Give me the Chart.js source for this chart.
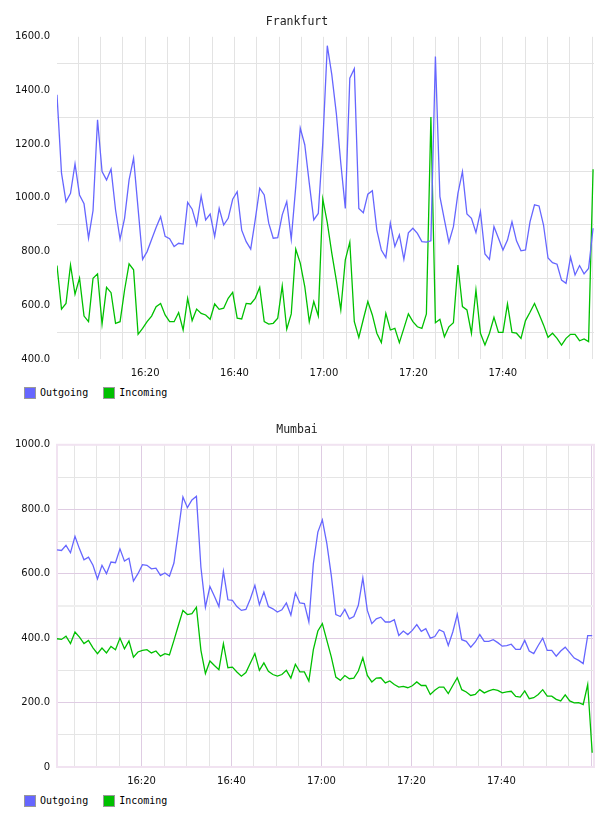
<!DOCTYPE html>
<html>
<head>
<meta charset="utf-8">
<script src="https://cdn.jsdelivr.net/npm/chart.js@4.4.0/dist/chart.umd.min.js"></script>
<style>
  body { margin: 0; background: #fff; }
  .panel { position: relative; width: 608px; height: 408px; }
  .panel canvas { position: absolute; left: 0; top: 0; }
  .legend {
    position: absolute; left: 24px; top: 387px; display: flex;
    font: 10px "DejaVu Sans Mono", monospace; color: #000; line-height: 12px;
  }
  .legend .item { display: flex; align-items: center; margin-right: 15px; }
  .legend .swatch { width: 10px; height: 10px; border: 1px solid #999; margin-right: 4px; }
</style>
</head>
<body>
<div class="panel">
  <canvas id="frankfurtChart" width="608" height="380"></canvas>
  <div class="legend" id="frankfurtLegend"></div>
</div>
<div class="panel">
  <canvas id="mumbaiChart" width="608" height="380"></canvas>
  <div class="legend" id="mumbaiLegend"></div>
</div>
<script>
// one sample per minute, starting just after 16:00
const seriesNames = ["Outgoing", "Incoming"];
const seriesColors = ["#6666ff", "#00c000"];

const timeTicks = [20, 40, 60, 80, 100];
const timeLabels = ["16:20", "16:40", "17:00", "17:20", "17:40"];

const frankfurtOutgoing = [
  1384, 1092, 986, 1017, 1127, 1011, 978, 850, 953, 1291,
  1098, 1067, 1107, 955, 846, 924, 1067, 1148, 960, 771,
  800, 845, 890, 930, 857, 848, 819, 831, 828, 983,
  958, 899, 1007, 918, 940, 856, 961, 899, 924, 995,
  1023, 880, 837, 809, 918, 1036, 1011, 906, 850, 852,
  937, 986, 846, 1042, 1260, 1198, 1055, 918, 942, 1204,
  1567, 1459, 1316, 1129, 961, 1446, 1481, 961, 945, 1014,
  1027, 880, 806, 778, 906, 819, 862, 771, 870, 887,
  868, 837, 835, 840, 1527, 1005, 918, 834, 893, 1017,
  1098, 940, 924, 871, 949, 791, 771, 893, 850, 806,
  843, 911, 840, 803, 806, 911, 974, 970, 899, 776,
  759, 753, 694, 682, 779, 713, 748, 717, 737, 887,
];
const frankfurtIncoming = [
  748, 586, 607, 750, 641, 701, 560, 539, 701, 717,
  530, 667, 647, 533, 539, 657, 754, 732, 492, 514,
  539, 560, 595, 607, 564, 539, 539, 573, 508, 626,
  543, 586, 570, 564, 548, 605, 585, 589, 626, 648,
  552, 549, 607, 605, 626, 667, 539, 530, 533, 552,
  672, 511, 568, 809, 757, 670, 539, 614, 560, 996,
  908, 794, 694, 583, 769, 835, 539, 480, 548, 614,
  564, 496, 461, 570, 508, 514, 461, 514, 568, 539,
  520, 514, 568, 1301, 535, 548, 483, 520, 535, 750,
  595, 583, 496, 657, 496, 452, 496, 555, 499, 499,
  605, 499, 496, 477, 543, 574, 607, 568, 527, 481,
  496, 477, 452, 477, 492, 492, 468, 475, 465, 1107,
];

const mumbaiOutgoing = [
  674, 672, 688, 665, 716, 677, 643, 651, 626, 584,
  626, 600, 636, 634, 677, 639, 648, 577, 600, 628,
  626, 615, 617, 595, 602, 592, 633, 734, 838, 805,
  829, 840, 620, 496, 560, 530, 498, 607, 519, 517,
  498, 486, 489, 522, 564, 504, 543, 498, 491, 481,
  488, 509, 471, 540, 509, 507, 450, 631, 729, 767,
  693, 593, 473, 467, 489, 460, 467, 502, 587, 486,
  445, 460, 465, 450, 450, 457, 408, 422, 411, 424,
  442, 421, 429, 400, 405, 426, 419, 377, 419, 474,
  395, 390, 372, 388, 411, 390, 390, 395, 386, 375,
  377, 381, 365, 365, 393, 360, 352, 377, 400, 362,
  362, 344, 360, 372, 355, 338, 331, 321, 408, 408,
];
const mumbaiIncoming = [
  398, 396, 406, 383, 419, 403, 383, 393, 370, 352,
  369, 354, 374, 364, 400, 367, 391, 341, 357, 362,
  364, 354, 360, 344, 352, 348, 393, 440, 486, 473,
  476, 496, 362, 290, 329, 315, 302, 383, 308, 310,
  295, 282, 293, 323, 352, 300, 323, 297, 287, 282,
  287, 300, 276, 319, 295, 295, 267, 364, 422, 445,
  393, 341, 279, 269, 284, 274, 276, 298, 339, 284,
  264, 276, 277, 261, 267, 256, 248, 250, 246, 252,
  264, 253, 253, 225, 238, 248, 248, 228, 253, 277,
  240, 233, 222, 225, 240, 230, 236, 241, 238, 230,
  233, 235, 219, 217, 236, 212, 215, 225, 240, 220,
  220, 210, 205, 224, 205, 199, 200, 194, 256, 44,
];

const tickFont = { family: "'DejaVu Sans', sans-serif", size: 10 };

function timeLabel(value) {
  const idx = timeTicks.indexOf(value);
  return idx >= 0 ? timeLabels[idx] : "";
}

function yLabel(value) {
  if (value % 200 !== 0) return "";
  return value === 0 ? "0" : value.toFixed(1);
}

function toPoints(values, start, step) {
  return values.map((v, i) => ({ x: start + i * step, y: v }));
}

function renderLegend(id) {
  const el = document.getElementById(id);
  el.innerHTML = seriesNames
    .map(
      (name, i) =>
        `<span class="item"><span class="swatch" style="background:${seriesColors[i]}"></span>${name}</span>`,
    )
    .join("");
}

const framePlugin = {
  id: "frame",
  beforeDatasetsDraw(chart, args, opts) {
    if (!opts.color) return;
    const { ctx, chartArea } = chart;
    ctx.save();
    ctx.strokeStyle = opts.color;
    ctx.lineWidth = 2;
    ctx.strokeRect(chartArea.left, chartArea.top, chartArea.right - chartArea.left, chartArea.bottom - chartArea.top);
    ctx.restore();
  },
};

function renderChart(canvasId, title, outgoing, incoming, cfg) {
  const ctx = document.getElementById(canvasId);
  const minuteMarks = [];
  for (let m = 5; m < cfg.xMax; m += 5) {
    if (m > cfg.xStart) minuteMarks.push(m);
  }

  return new Chart(ctx, {
    type: "line",
    data: {
      datasets: [
        {
          label: seriesNames[0],
          data: toPoints(outgoing, cfg.xStart, cfg.xStep),
          borderColor: seriesColors[0],
          borderWidth: 1.3,
          pointRadius: 0,
          tension: 0,
          fill: false,
        },
        {
          label: seriesNames[1],
          data: toPoints(incoming, cfg.xStart, cfg.xStep),
          borderColor: seriesColors[1],
          borderWidth: 1.3,
          pointRadius: 0,
          tension: 0,
          fill: false,
        },
      ],
    },
    options: {
      responsive: false,
      animation: false,
      layout: { padding: { left: 0, right: 14, top: 0, bottom: 0 } },
      plugins: {
        legend: { display: false },
        tooltip: { enabled: false },
        title: {
          display: true,
          text: title,
          color: "#222",
          font: { family: "'DejaVu Sans Mono', monospace", size: 11.5, weight: "normal" },
          padding: { top: 15, bottom: 8 },
        },
        frame: { color: cfg.frameColor },
      },
      scales: {
        x: {
          type: "linear",
          min: cfg.xStart,
          max: cfg.xMax,
          afterBuildTicks: (axis) => {
            axis.ticks = minuteMarks.map((v) => ({ value: v }));
          },
          afterFit: (scale) => {
            scale.height = 21;
          },
          border: { display: false },
          grid: {
            drawTicks: false,
            color: (c) => cfg.xGridColor(c.tick.value),
          },
          ticks: {
            autoSkip: false,
            maxRotation: 0,
            padding: 8,
            color: "#111",
            font: tickFont,
            callback: (v) => timeLabel(v),
          },
        },
        y: {
          min: cfg.yMin,
          max: cfg.yMax,
          afterFit: (scale) => {
            scale.width = 57;
          },
          border: { display: false },
          grid: {
            drawTicks: false,
            color: (c) => cfg.yGridColor(c.tick.value),
            lineWidth: (c) => (c.tick.value === cfg.wideLine ? 2 : 1),
          },
          ticks: {
            stepSize: 100,
            padding: 7,
            color: "#111",
            font: tickFont,
            callback: (v) => yLabel(v),
          },
        },
      },
    },
    plugins: [framePlugin],
  });
}

renderChart("frankfurtChart", "Frankfurt", frankfurtOutgoing, frankfurtIncoming, {
  xStart: 0.3,
  xStep: 1.0075,
  xMax: 120.4,
  yMin: 400,
  yMax: 1600,
  frameColor: null,
  wideLine: null,
  xGridColor: () => "#e3e3e3",
  yGridColor: (v) => (v % 200 === 100 ? "#e3e3e3" : "rgba(0,0,0,0)"),
});

renderChart("mumbaiChart", "Mumbai", mumbaiOutgoing, mumbaiIncoming, {
  xStart: 1.2,
  xStep: 1.0,
  xMax: 120.6,
  yMin: 0,
  yMax: 1000,
  frameColor: "#f1e3f1",
  wideLine: 500,
  xGridColor: (v) => (v % 20 === 0 ? "#dfcce3" : "#e5e5e5"),
  yGridColor: (v) => {
    if (v === 0 || v === 1000) return "rgba(0,0,0,0)";
    if (v === 500) return "#efefef";
    return v % 200 === 0 ? "#dfcce3" : "#e5e5e5";
  },
});

renderLegend("frankfurtLegend");
renderLegend("mumbaiLegend");
</script>
</body>
</html>
